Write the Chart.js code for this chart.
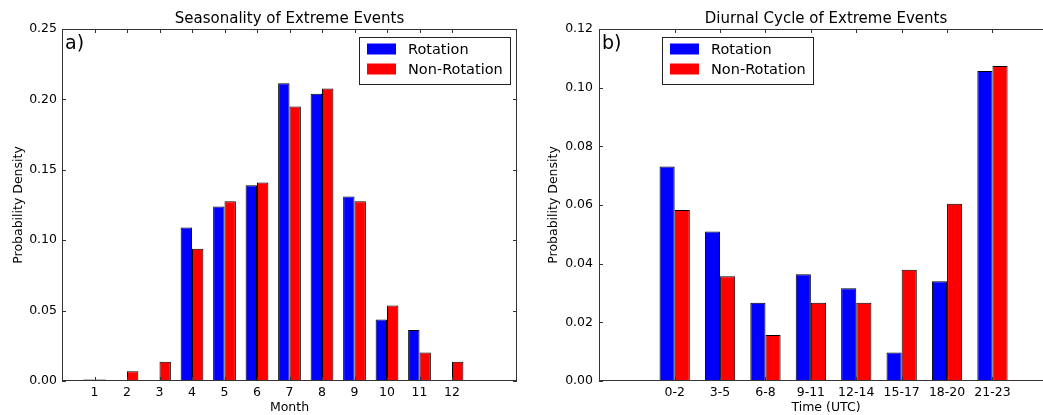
<!DOCTYPE html>
<html>
<head>
<meta charset="utf-8">
<script src="https://cdn.jsdelivr.net/npm/chart.js@4.4.1/dist/chart.umd.min.js"></script>
<style>
    html, body { margin: 0; padding: 0; background: #fff; width: 1043px; height: 415px; overflow: hidden; }
    .panel { position: absolute; top: 0; height: 415px; }
    #left { left: 0; width: 521px; }
    #right { left: 521px; width: 533px; }  /* plot runs past the right edge, as in the figure */
</style>
</head>
<body>
<div class="panel" id="left"><canvas id="seasonChart"></canvas></div>
<div class="panel" id="right"><canvas id="diurnalChart"></canvas></div>
<script>
// Panel a) seasonality
const months = [1, 2, 3, 4, 5, 6, 7, 8, 9, 10, 11, 12];
const monthRotation    = [0.001, 0, 0, 0.109, 0.124, 0.139, 0.2115, 0.204, 0.131, 0.0437, 0.0363, 0];
const monthNonRotation = [0.001, 0.007, 0.0136, 0.094, 0.1277, 0.141, 0.195, 0.2077, 0.1277, 0.0536, 0.0202, 0.0136];

// Panel b) diurnal cycle
const timeLabels = ['0-2', '3-5', '6-8', '9-11', '12-14', '15-17', '18-20', '21-23'];
const timeRotation    = [0.0731, 0.051, 0.0267, 0.0364, 0.0316, 0.0097, 0.034, 0.1057];
const timeNonRotation = [0.0583, 0.0357, 0.0157, 0.0267, 0.0267, 0.0379, 0.0604, 0.1074];

const seriesNames = ['Rotation', 'Non-Rotation'];
const seriesColors = ['#0000ff', '#ff0000'];

Chart.defaults.font.family = "'DejaVu Sans', sans-serif";
Chart.defaults.color = '#000';

// matplotlib look: box frame, inward ticks, boxed legend, panel letter
const mplFrame = {
    id: 'mplFrame',
    afterDatasetsDraw(chart, args, opts) {
        const { ctx, chartArea: a, scales: { x, y } } = chart;
        ctx.save();
        ctx.strokeStyle = '#333';
        ctx.lineWidth = 1;
        ctx.strokeRect(a.left + 0.5, a.top + 0.5, a.right - a.left - 1, a.bottom - a.top - 1);

        ctx.beginPath();
        x.ticks.forEach(t => {
            const px = Math.round(x.getPixelForValue(t.value)) + 0.5;
            ctx.moveTo(px, a.bottom); ctx.lineTo(px, a.bottom - 4);
            ctx.moveTo(px, a.top); ctx.lineTo(px, a.top + 4);
        });
        y.ticks.forEach(t => {
            const py = Math.round(y.getPixelForValue(t.value)) + 0.5;
            ctx.moveTo(a.left, py); ctx.lineTo(a.left + 4, py);
            ctx.moveTo(a.right, py); ctx.lineTo(a.right - 4, py);
        });
        ctx.stroke();

        // panel letter
        ctx.fillStyle = '#000';
        ctx.font = "19px 'DejaVu Sans'";
        ctx.textBaseline = 'top';
        ctx.textAlign = 'left';
        ctx.fillText(opts.panel, a.left + 3, a.top + 6);

        // legend box
        const w = 151, h = 47;
        const lx = opts.legendSide === 'right' ? a.right - opts.legendOffset - w : a.left + opts.legendOffset;
        const ly = a.top + 8;
        ctx.fillStyle = '#fff';
        ctx.fillRect(lx, ly, w, h);
        ctx.strokeStyle = '#222';
        ctx.strokeRect(lx + 0.5, ly + 0.5, w, h);
        ctx.font = "14.5px 'DejaVu Sans'";
        ctx.textBaseline = 'middle';
        chart.data.datasets.forEach((ds, i) => {
            const cy = ly + 12 + i * 20;
            ctx.fillStyle = ds.backgroundColor;
            ctx.fillRect(lx + 8, cy - 5.5, 29, 11);
            ctx.fillStyle = '#000';
            ctx.fillText(ds.label, lx + 49, cy + 1);
        });
        ctx.restore();
    }
};

function makeDatasets(xs, a, b, catPct) {
    return [a, b].map((vals, k) => ({
        label: seriesNames[k],
        data: vals.map((v, i) => ({ x: xs[i], y: v })),
        backgroundColor: seriesColors[k],
        borderColor: '#000',
        borderWidth: 1,
        inflateAmount: 0,
        categoryPercentage: catPct,
        barPercentage: 1.0
    }));
}

function makeChart(canvasId, cfg) {
    return new Chart(document.getElementById(canvasId), {
        type: 'bar',
        data: { datasets: makeDatasets(cfg.xs, cfg.a, cfg.b, cfg.catPct) },
        plugins: [mplFrame],
        options: {
            responsive: true,
            maintainAspectRatio: false,
            animation: false,
            layout: { padding: { left: 0, right: cfg.padRight, top: 0, bottom: 0 } },
            plugins: {
                legend: { display: false },
                tooltip: { enabled: false },
                title: {
                    display: true,
                    text: cfg.title,
                    fullSize: false,
                    font: { size: 15, weight: 'normal' },
                    padding: { top: 10, bottom: 1 }
                },
                mplFrame: { panel: cfg.panel, legendSide: cfg.legendSide, legendOffset: cfg.legendOffset }
            },
            scales: {
                x: {
                    type: 'linear',
                    offset: false,
                    min: cfg.xMin,
                    max: cfg.xMax,
                    grid: { display: false, drawTicks: false, tickLength: 0, offset: false },
                    border: { display: false },
                    afterBuildTicks: s => { s.ticks = cfg.xs.map(v => ({ value: v })); },
                    afterFit: s => { s.height = 34; },
                    ticks: {
                        autoSkip: false,
                        maxRotation: 0,
                        padding: 4,
                        font: { size: 12.5 },
                        callback: cfg.xLabel
                    },
                    title: { display: true, text: cfg.xTitle, font: { size: 12.5 }, padding: { top: 0, bottom: 0 } }
                },
                y: {
                    min: 0,
                    max: cfg.yMax,
                    grid: { display: false, drawTicks: false, tickLength: 0 },
                    border: { display: false },
                    afterFit: s => { s.width = cfg.yWidth; },
                    ticks: {
                        stepSize: cfg.yStep,
                        padding: cfg.yPad,
                        font: { size: 12.5 },
                        callback: v => v.toFixed(2)
                    },
                    title: { display: true, text: 'Probability Density', font: { size: 12.5 }, padding: { top: cfg.yTitlePad, bottom: 0 } }
                }
            }
        }
    });
}

makeChart('seasonChart', {
    xs: months, a: monthRotation, b: monthNonRotation, catPct: 0.7,
    xMin: 0, xMax: 14, xLabel: v => String(v),
    title: 'Seasonality of Extreme Events', xTitle: 'Month',
    yMax: 0.25, yStep: 0.05, yWidth: 62, yPad: 5, yTitlePad: 11, padRight: 4,
    panel: 'a)', legendSide: 'right', legendOffset: 7
});

makeChart('diurnalChart', {
    xs: timeLabels.map((l, i) => i), a: timeRotation, b: timeNonRotation, catPct: 2 / 3,
    xMin: -5 / 3, xMax: 25 / 3, xLabel: v => timeLabels[v],
    title: 'Diurnal Cycle of Extreme Events', xTitle: 'Time (UTC)',
    yMax: 0.12, yStep: 0.02, yWidth: 78, yPad: 6, yTitlePad: 25, padRight: 1,
    panel: 'b)', legendSide: 'left', legendOffset: 63
});
</script>
</body>
</html>
